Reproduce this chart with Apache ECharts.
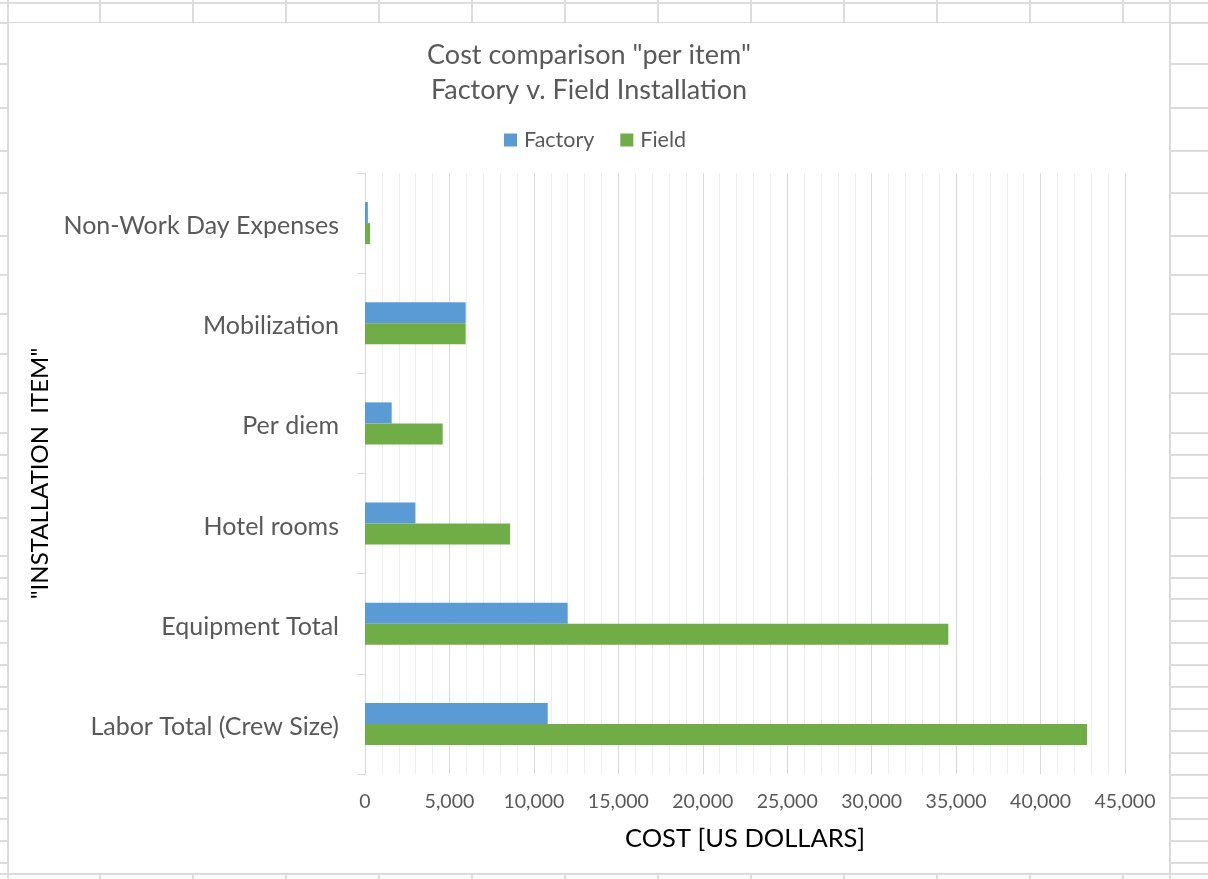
<!DOCTYPE html>
<html>
<head>
<meta charset="utf-8">
<script src="https://cdn.jsdelivr.net/npm/echarts@6/dist/echarts.min.js"></script>
<style>
  html, body { margin: 0; padding: 0; background: #ffffff; width: 1208px; height: 879px; overflow: hidden; }
  #sheet { position: absolute; left: 0; top: 0; width: 1208px; height: 879px; }
  .hl { position: absolute; height: 2px; background: #dcdcdc; }
  .vl { position: absolute; width: 2px; background: #dcdcdc; }
  #frame { position: absolute; left: 8px; top: 22px; width: 1160px; height: 850px; border: 1px solid #d9d9d9; background: #ffffff; }
  #chart { position: absolute; left: 9px; top: 23px; width: 1160px; height: 850px; }
</style>
</head>
<body>
<div id="sheet"></div>
<div id="frame"></div>
<div id="chart"></div>
<script>
// ---- data ----
const categories = ['Labor Total (Crew Size)', 'Equipment Total', 'Hotel rooms', 'Per diem', 'Mobilization', 'Non-Work Day Expenses'];
const factoryValues = [10820, 12000, 2980, 1580, 5960, 170];
const fieldValues = [42750, 34540, 8590, 4600, 5960, 300];
const seriesNames = ['Factory', 'Field'];
const titleLines = ['Cost comparison "per item"', 'Factory v. Field Installation'];
const xAxisTitle = 'COST [US DOLLARS]';
const yAxisTitle = '"INSTALLATION  ITEM"';

// ---- decorative spreadsheet cell lines (background only) ----
const sheet = document.getElementById('sheet');
const rowYs = [2, 22, 63, 107, 150, 192, 235, 274, 313, 353, 392, 432, 454, 477, 517, 555, 577, 598, 620, 642, 664, 686, 708, 730, 752, 774, 797, 818, 840, 862, 873];
const colXs = [7, 99, 192, 285, 378, 471, 564, 657, 750, 843, 936, 1029, 1122];
rowYs.forEach(function (y) {
  const d = document.createElement('div'); d.className = 'hl';
  d.style.top = y + 'px'; d.style.left = '0px'; d.style.width = '1208px';
  sheet.appendChild(d);
});
colXs.forEach(function (x) {
  const d = document.createElement('div'); d.className = 'vl';
  d.style.left = x + 'px'; d.style.top = '0px'; d.style.height = '879px';
  sheet.appendChild(d);
});
const rc = document.createElement('div'); rc.className = 'vl';
rc.style.left = '1169px'; rc.style.top = '0px'; rc.style.height = '879px';
sheet.appendChild(rc);

// ---- chart ----
const FONT = 'Lato, "Open Sans", sans-serif';
const chart = echarts.init(document.getElementById('chart'), null, { renderer: 'canvas' });
chart.setOption({
  animation: false,
  backgroundColor: 'transparent',
  title: {
    text: titleLines.join('\n'),
    left: 'center',
    top: 10,
    textStyle: { fontFamily: FONT, fontSize: 27, fontWeight: 'normal', color: '#595959', lineHeight: 35 }
  },
  legend: {
    data: seriesNames,
    top: 101,
    left: 490,
    icon: 'rect',
    itemWidth: 13,
    itemHeight: 13,
    itemGap: 26,
    textStyle: { fontFamily: FONT, fontSize: 21.5, color: '#595959', padding: [0, 0, 0, 2] }
  },
  grid: { left: 356, right: 44, top: 150, bottom: 99, containLabel: false },
  xAxis: {
    type: 'value',
    min: 0,
    max: 45000,
    interval: 5000,
    name: xAxisTitle,
    nameLocation: 'middle',
    nameGap: 52,
    nameTextStyle: { fontFamily: FONT, fontSize: 25.5, color: '#000000' },
    axisLine: { show: false },
    axisTick: { show: false },
    axisLabel: {
      fontFamily: FONT, fontSize: 19.5, color: '#595959', margin: 18,
      formatter: function (v) { return v.toLocaleString('en-US'); }
    },
    splitLine: { show: true, lineStyle: { color: '#d9d9d9', width: 1 } },
    minorTick: { show: false, splitNumber: 5 },
    minorSplitLine: { show: true, lineStyle: { color: '#eeeeee', width: 1 } }
  },
  yAxis: {
    type: 'category',
    data: categories,
    name: yAxisTitle,
    nameLocation: 'middle',
    nameGap: 305,
    nameRotate: 90,
    nameTextStyle: { fontFamily: FONT, fontSize: 24, color: '#000000' },
    axisLine: { show: true, lineStyle: { color: '#d9d9d9', width: 1 } },
    axisTick: { show: true, length: 8, lineStyle: { color: '#d9d9d9' } },
    axisLabel: { fontFamily: FONT, fontSize: 25, color: '#595959', margin: 26, verticalAlign: 'top', lineHeight: 6 },
    splitLine: { show: false }
  },
  series: [
    {
      name: seriesNames[0], type: 'bar', data: factoryValues,
      barWidth: '21%', barGap: '0%',
      itemStyle: { color: '#5b9bd5' }
    },
    {
      name: seriesNames[1], type: 'bar', data: fieldValues,
      barWidth: '21%', barGap: '0%',
      itemStyle: { color: '#70ad47' }
    }
  ]
});
</script>
</body>
</html>
